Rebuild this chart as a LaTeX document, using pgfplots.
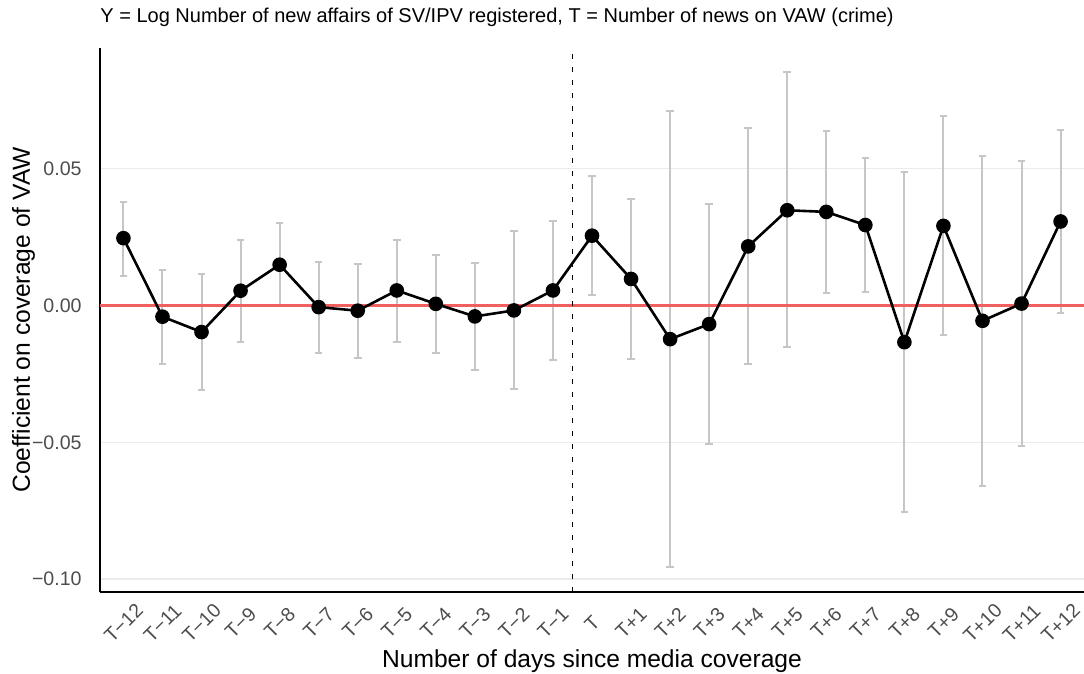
\documentclass[border=0pt]{standalone}
\usepackage{pgfplots}
\pgfplotsset{compat=1.18}
\usepackage{pgfplotstable}
\usepackage{fontspec}
\setmainfont{Liberation Sans}
\definecolor{gridgray}{RGB}{235,235,235}
\definecolor{errgray}{RGB}{198,198,198}
\definecolor{tickgray}{RGB}{77,77,77}
\definecolor{zerored}{RGB}{242,95,95}
\pgfplotstableread{
x y lo hi
-12 0.0246 0.0108 0.0380
-11 -0.0041 -0.0213 0.0128
-10 -0.0097 -0.0308 0.0116
-9 0.0054 -0.0132 0.0240
-8 0.0149 0.0000 0.0301
-7 -0.0006 -0.0174 0.0160
-6 -0.0019 -0.0191 0.0152
-5 0.0055 -0.0132 0.0240
-4 0.0006 -0.0175 0.0186
-3 -0.0040 -0.0236 0.0155
-2 -0.0018 -0.0306 0.0272
-1 0.0055 -0.0201 0.0309
0 0.0255 0.0038 0.0474
1 0.0097 -0.0196 0.0390
2 -0.0123 -0.0956 0.0711
3 -0.0068 -0.0507 0.0372
4 0.0216 -0.0214 0.0648
5 0.0348 -0.0153 0.0852
6 0.0342 0.0045 0.0639
7 0.0294 0.0049 0.0538
8 -0.0134 -0.0753 0.0487
9 0.0291 -0.0107 0.0691
10 -0.0056 -0.0660 0.0548
11 0.0007 -0.0513 0.0529
12 0.0307 -0.0028 0.0640
}\coefs
\pgfplotstableread{
x y
-12.6 0
12.6 0
}\zeroline
\begin{document}
\begin{tikzpicture}
\begin{axis}[
  scale only axis,
  width=492pt, height=272pt,
  xmin=-12.6, xmax=12.6,
  ymin=-0.1047, ymax=0.0941,
  axis x line*=bottom, axis y line*=left,
  axis line style={-, black, line width=0.8pt},
  major tick length=0pt,
  xtick={-12,...,12},
  xticklabels={T−12,T−11,T−10,T−9,T−8,T−7,T−6,T−5,T−4,T−3,T−2,T−1,T,T+1,T+2,T+3,T+4,T+5,T+6,T+7,T+8,T+9,T+10,T+11,T+12},
  ytick={-0.1,-0.05,0,0.05},
  yticklabels={−0.10,−0.05,0.00,0.05},
  ymajorgrids,
  grid style={gridgray, line width=0.7pt},
  tick label style={font=\fontsize{9.8}{11}\selectfont, text=tickgray},
  xticklabel style={yshift=-15.5pt, rotate=45, anchor=center, inner sep=0pt},
  yticklabel style={anchor=east, inner sep=0pt, xshift=-9pt},
  xlabel={Number of days since media coverage},
  ylabel={Coefficient on coverage of VAW},
  label style={font=\fontsize{12.3}{14}\selectfont},
  xlabel style={at={(axis description cs:0.5,-0.1397)}, anchor=base, inner sep=0pt},
  ylabel style={at={(axis description cs:-0.0777,0.5)}, anchor=center, rotate=0, inner sep=0pt},
  title={Y = Log Number of new affairs of SV/IPV registered, T = Number of news on VAW (crime)},
  title style={at={(axis description cs:0,1.0239)}, anchor=base west, inner sep=0pt, font=\fontsize{10}{12}\selectfont},
  clip=false,
]
\coordinate (sw) at (rel axis cs:0,0);
\coordinate (ne) at (rel axis cs:1,1);
\addplot[draw=none, mark=none, forget plot,
  error bars/.cd, y dir=both, y explicit,
  error bar style={draw=errgray, solid, line width=1pt},
  error mark options={draw=errgray, solid, line width=1pt, mark size=1.9pt, rotate=90}]
  table[x=x, y=y, y error plus expr=\thisrow{hi}-\thisrow{y}, y error minus expr=\thisrow{y}-\thisrow{lo}] {\coefs};
\addplot[zerored, line width=1.05pt, forget plot] table[x=x, y=y] {\zeroline};
\addplot[draw=black, line width=0.7pt, dash pattern=on 2.5pt off 4pt, forget plot] coordinates {(-0.5,-0.1047) (-0.5,0.0941)};
\addplot[black, line width=1.3pt, mark=*, mark size=3pt, mark options={solid, fill=black}] table[x=x, y=y] {\coefs};
\end{axis}
\pgfresetboundingbox
\path[use as bounding box] ([xshift=-50pt,yshift=-40.5pt]sw) rectangle ([yshift=24pt]ne);
\end{tikzpicture}
\end{document}
